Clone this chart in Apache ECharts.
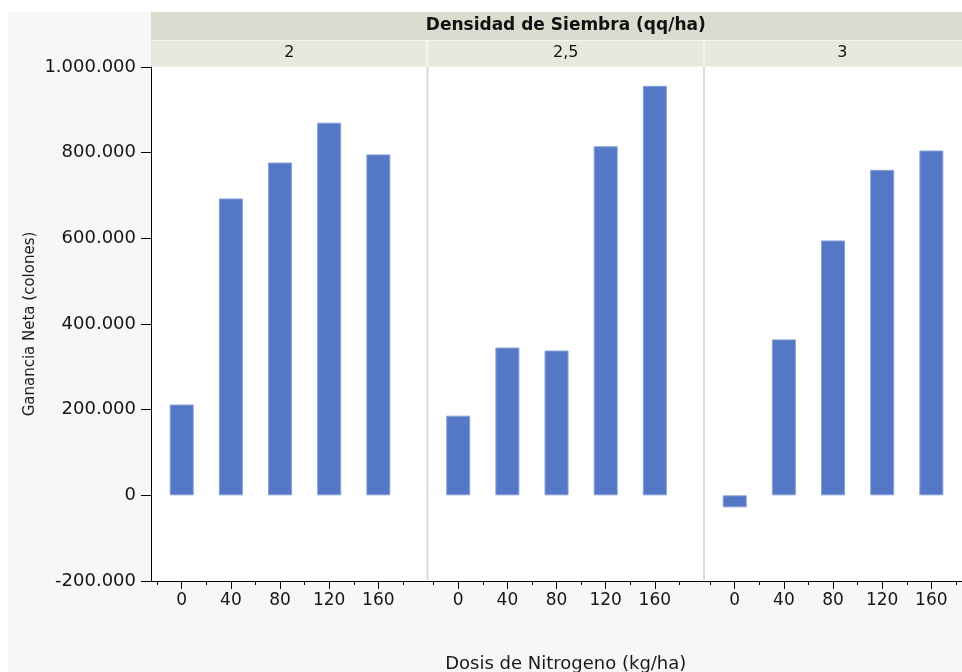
<!DOCTYPE html>
<html>
<head>
<meta charset="utf-8">
<script src="https://cdn.jsdelivr.net/npm/echarts@6/dist/echarts.min.js"></script>
<style>
html,body{margin:0;padding:0;background:#fff;}
#chart{width:962px;height:672px;}
</style>
</head>
<body>
<div id="chart"></div>
<script>
// ---- data ----
const doses = [0, 40, 80, 120, 160];                 // Dosis de Nitrogeno (kg/ha)
const minorDoses = [-20, 20, 60, 100, 140, 180];      // minor tick positions
const densidades = ['2', '2,5', '3'];                 // Densidad de Siembra (qq/ha)
const ganancia_2   = [212000, 693000, 777000, 870000, 796000];
const ganancia_2_5 = [186000, 345000, 338000, 815000, 956000];
const ganancia_3   = [-28000, 364000, 595000, 760000, 805000];
const yMin = -200000, yMax = 1000000, yStep = 200000;
const headerTitle = 'Densidad de Siembra (qq/ha)';
const yTitle = 'Ganancia Neta (colones)';
const xTitle = 'Dosis de Nitrogeno (kg/ha)';

// ---- layout ----
const PLOT_LEFT = 151, PANEL_W = 276.5, TOP = 67, BOTTOM = 581;
const X_MIN = -25, X_MAX = 200;
const seriesValues = [ganancia_2, ganancia_2_5, ganancia_3];

const fmt = v => {
  const s = Math.abs(v).toString().replace(/\B(?=(\d{3})+(?!\d))/g, '.');
  return (v < 0 ? '-' : '') + s;
};

const grids = [], xAxes = [], yAxes = [], series = [];
densidades.forEach((d, i) => {
  const left = PLOT_LEFT + i * PANEL_W;
  grids.push({left: left, top: TOP, width: PANEL_W, height: BOTTOM - TOP,
    outerBoundsMode: 'none', containLabel: false,
    show: true, backgroundColor: '#ffffff', borderWidth: 0});
  // major axis
  xAxes.push({type: 'value', gridIndex: i, min: X_MIN, max: X_MAX, position: 'bottom',
    axisLine: {show: true, onZero: false, lineStyle: {color: '#000', width: 1}},
    axisTick: {show: true, length: 8, customValues: doses, lineStyle: {color: '#000'}},
    axisLabel: {show: true, customValues: doses, margin: 11, color: '#151515',
      fontFamily: 'DejaVu Sans', fontSize: 17},
    splitLine: {show: false}});
  // minor ticks
  xAxes.push({type: 'value', gridIndex: i, min: X_MIN, max: X_MAX, position: 'bottom', offset: 0,
    axisLine: {show: false, onZero: false},
    axisTick: {show: true, length: 4, customValues: minorDoses, lineStyle: {color: '#000'}},
    axisLabel: {show: false}, splitLine: {show: false}});
  yAxes.push({type: 'value', gridIndex: i, min: yMin, max: yMax, interval: yStep,
    show: i === 0, position: 'left',
    axisLine: {show: true, onZero: false, lineStyle: {color: '#000', width: 1}},
    axisTick: {show: true, length: 10, lineStyle: {color: '#000'}},
    axisLabel: {show: true, formatter: fmt, margin: 15, color: '#151515',
      fontFamily: 'DejaVu Sans', fontSize: 18},
    splitLine: {show: false}});
  series.push({type: 'bar', xAxisIndex: i * 2, yAxisIndex: i, barWidth: 24,
    data: doses.map((x, k) => [x, seriesValues[i][k]]),
    itemStyle: {color: '#5477c6', borderColor: '#86a0d8', borderWidth: 1},
    emphasis: {disabled: true}, animation: false});
});

const centerX = PLOT_LEFT + PANEL_W * 1.5;
const graphics = [
  {type: 'rect', shape: {x: 0, y: 0, width: 962, height: 12}, style: {fill: '#ffffff'}, silent: true},
  {type: 'rect', shape: {x: 0, y: 0, width: 8, height: 672}, style: {fill: '#ffffff'}, silent: true},
  {type: 'rect', shape: {x: PLOT_LEFT, y: 12, width: PANEL_W * 3, height: 55}, style: {fill: '#f4f3ee'}, silent: true},
  {type: 'rect', shape: {x: PLOT_LEFT, y: 12, width: PANEL_W * 3, height: 28}, style: {fill: '#dcdbcf'}, silent: true},
  {type: 'text', x: centerX, y: 26, silent: true,
    style: {text: headerTitle, fill: '#111', font: 'bold 17px "DejaVu Sans"', align: 'center', verticalAlign: 'middle'}},
  {type: 'text', x: 30, y: (TOP + BOTTOM) / 2, rotation: Math.PI / 2, silent: true,
    style: {text: yTitle, fill: '#1a1a1a', font: '15px "DejaVu Sans"', align: 'center', verticalAlign: 'middle'}},
  {type: 'text', x: centerX, y: 664, silent: true,
    style: {text: xTitle, fill: '#1a1a1a', font: '18px "DejaVu Sans"', align: 'center', verticalAlign: 'middle'}}
];
densidades.forEach((d, i) => {
  const left = PLOT_LEFT + i * PANEL_W;
  graphics.push({type: 'rect', shape: {x: left + (i ? 1 : 0), y: 41, width: PANEL_W - 2, height: 25},
    style: {fill: '#e9e8df'}, silent: true});
  graphics.push({type: 'text', x: left + PANEL_W / 2, y: 53, silent: true,
    style: {text: d, fill: '#111', font: '16px "DejaVu Sans"', align: 'center', verticalAlign: 'middle'}});
  if (i > 0) {
    graphics.push({type: 'line', shape: {x1: left, y1: TOP, x2: left, y2: BOTTOM - 1},
      style: {stroke: '#dadada', lineWidth: 2}, silent: true});
  }
});

const chart = echarts.init(document.getElementById('chart'), null, {renderer: 'canvas'});
chart.setOption({
  backgroundColor: '#f7f7f7',
  animation: false,
  grid: grids, xAxis: xAxes, yAxis: yAxes, series: series,
  graphic: graphics
});
</script>
</body>
</html>
